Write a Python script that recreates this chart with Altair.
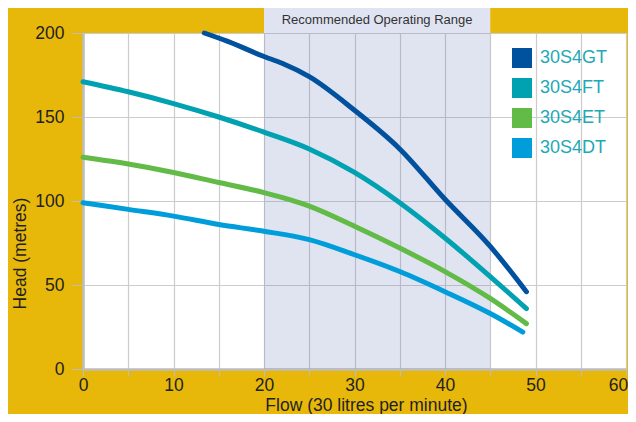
import altair as alt
import pandas as pd

# ---- data ----
series_names = ["30S4GT", "30S4FT", "30S4ET", "30S4DT"]
series_colors = ["#00519E", "#00A2B2", "#62BB46", "#009DDB"]

gt_flow = [13.4, 16, 20, 22, 25, 30, 35, 40, 45, 49]
gt_head = [200, 195, 186, 182, 174, 154, 131, 101, 73, 46]

ft_flow = [0, 5, 10, 15, 20, 25, 30, 35, 40, 45, 49]
ft_head = [171, 165, 158, 150, 141, 131, 117, 99, 78, 55, 36]

et_flow = [0, 5, 10, 15, 20, 25, 30, 35, 40, 45, 49]
et_head = [126, 122, 117, 111, 105, 97, 85, 72, 58, 42, 27]

dt_flow = [0, 5, 10, 15, 20, 25, 30, 35, 40, 45, 48.6]
dt_head = [99, 95, 91, 86, 82, 77, 68, 58, 46, 33, 22]

range_start = [20]
range_end = [45]
range_label = ["Recommended Operating Range"]

x_ticks = list(range(0, 61, 5))
y_ticks = [0, 50, 100, 150, 200]

# ---- tables ----
rows = []
for name, xs, ys in zip(series_names,
                        [gt_flow, ft_flow, et_flow, dt_flow],
                        [gt_head, ft_head, et_head, dt_head]):
    for xv, yv in zip(xs, ys):
        rows.append({"series": name, "flow": xv, "head": yv})
curves = pd.DataFrame(rows)
band = pd.DataFrame({"start": range_start, "end": range_end, "label": range_label})

TEXT = "#231F20"
AXIS_GRAY = "#BDBDBD"
GRID = "#CCCCCC"
FS = 17.5

x_scale = alt.Scale(domain=[0, 60], nice=False, zero=True)
y_scale = alt.Scale(domain=[0, 200], nice=False)
color_scale = alt.Scale(domain=series_names, range=series_colors)

x_axis = alt.Axis(
    values=x_ticks,
    labelExpr="datum.value % 10 === 0 ? datum.label : ''",
    labelFlush=False,
    labelOffset={"condition": {"test": "datum.value >= 60", "value": -8}, "value": 0},
    tickSize=7, tickColor=AXIS_GRAY, domainColor=AXIS_GRAY, domainWidth=2.5,
    gridColor=GRID, gridWidth=1.2,
    labelFontSize=FS, labelColor=TEXT, labelPadding=0,
    title="Flow (30 litres per minute)", titleFontSize=FS, titleFontWeight="normal",
    titleColor=TEXT, titleX=283, titleY=36, titleBaseline="middle", titleAlign="center",
)
y_axis = alt.Axis(
    values=y_ticks,
    labelFlush=False,
    tickSize=11, tickColor=AXIS_GRAY, domainColor=AXIS_GRAY, domainWidth=2.5,
    gridColor=GRID, gridWidth=1.2,
    labelFontSize=FS, labelColor=TEXT, labelPadding=8,
    title="Head (metres)", titleFontSize=FS, titleFontWeight="normal",
    titleColor=TEXT, titleX=-63, titleY=220, titleAngle=270,
    titleBaseline="middle", titleAlign="center",
)

shade = alt.Chart(band).mark_rect(color="#6473B4", opacity=0.2).encode(
    x=alt.X("start:Q", scale=x_scale, axis=x_axis),
    x2="end:Q",
    y=alt.value(0),
    y2=alt.value(336),
)

label_box = alt.Chart(band).mark_rect(color="#E0E3F1", opacity=1).encode(
    x=alt.X("start:Q", scale=x_scale),
    x2="end:Q",
    y=alt.value(-26),
    y2=alt.value(0),
)

label_text = alt.Chart(band).transform_calculate(
    mid="(datum.start + datum.end) / 2"
).mark_text(fontSize=13, color="#333333", baseline="middle", align="center").encode(
    x=alt.X("mid:Q", scale=x_scale),
    y=alt.value(-13),
    text="label:N",
)

# small filled squares hidden under the curves; they carry the legend
legend_layer = alt.Chart(curves).mark_square(filled=True, size=4).encode(
    x=alt.X("flow:Q", scale=x_scale),
    y=alt.Y("head:Q", scale=y_scale),
    fill=alt.Fill(
        "series:N", scale=color_scale,
        legend=alt.Legend(
            title=None, orient="none", legendX=429, legendY=15,
            symbolType="square", symbolSize=400, symbolStrokeWidth=0,
            symbolOpacity=1, labelFontSize=18, labelColor="#1DA9B5",
            labelOffset=8, rowPadding=10, padding=0,
        ),
    ),
)

lines = alt.Chart(curves).mark_line(
    strokeWidth=5, strokeCap="round", strokeJoin="round", interpolate="monotone"
).encode(
    x=alt.X("flow:Q", scale=x_scale, axis=x_axis),
    y=alt.Y("head:Q", scale=y_scale, axis=y_axis),
    color=alt.Color("series:N", scale=color_scale, legend=None),
    detail="series:N",
)

chart = alt.layer(shade, label_box, label_text, legend_layer, lines).properties(
    width=543, height=336,
    autosize=alt.AutoSizeParams(type="none"),
    padding={"left": 75, "top": 25, "right": 2, "bottom": 45},
    background="#E7B80A",
).configure(font="Liberation Sans").configure_view(
    fill="white", stroke=GRID, strokeWidth=1
)

chart.save("out.html", embed_options={"renderer": "svg", "actions": False})
